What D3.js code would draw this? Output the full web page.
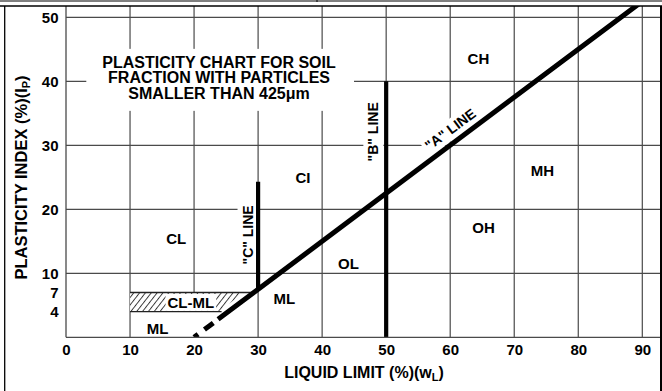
<!DOCTYPE html>
<html>
<head>
<meta charset="utf-8">
<script src="https://cdn.jsdelivr.net/npm/d3@7"></script>
<style>
  html, body { margin: 0; padding: 0; background: #fff; }
  svg { display: block; font-family: "Liberation Sans", Arial, Helvetica, sans-serif; font-weight: bold; }
</style>
</head>
<body>
<svg id="chart" width="662" height="391"></svg>
<script>
// Axis ticks
const liquidLimitTicks = [0, 10, 20, 30, 40, 50, 60, 70, 80, 90];
const plasticityTicks = [4, 7, 10, 20, 30, 40, 50];
const plasticityGrid = [10, 20, 30, 40, 50];

// Boundary lines (liquid limit, plasticity index)
const aLineLL = [20, 90];
const aLinePI = [0, 52.5];
const bLineLL = [50, 50];
const bLinePI = [0, 40];
const cLineLL = [30, 30];
const cLinePI = [7.5, 24.3];

// CL-ML hatched zone corners
const clmlLL = [10, 10, 27.8, 23.8];
const clmlPI = [4, 7, 7, 4];
const clmlTopLL = [10, 29.3];
const clmlBottomLL = [10, 24.3];

// Soil group zones
const zoneNames = ["CH", "CI", "MH", "OH", "CL", "OL", "ML", "ML"];
const zoneLL = [64.4, 37.0, 74.4, 65.2, 17.2, 44.1, 34.1, 14.3];
const zonePI = [43.5, 24.9, 26.1, 17.1, 15.5, 11.6, 6.1, 1.45];

const titleLines = ["PLASTICITY CHART FOR SOIL", "FRACTION WITH PARTICLES", "SMALLER THAN 425μm"];

const svg = d3.select("#chart");
const W = 662, H = 391;
const plot = { left: 66, right: 660, top: 6, bottom: 337.3 };

const x = d3.scaleLinear().domain([0, 90]).range([66, 642.3]);
const y = d3.scaleLinear().domain([0, 50]).range([337.3, 17.3]);

const gridColor = "#4a4a4a";

svg.append("rect").attr("width", W).attr("height", H).attr("fill", "#fff");

const defs = svg.append("defs");
defs.append("clipPath").attr("id", "plotClip")
  .append("rect")
  .attr("x", plot.left).attr("y", plot.top)
  .attr("width", plot.right - plot.left).attr("height", plot.bottom - plot.top);

const hatch = defs.append("pattern").attr("id", "hatch")
  .attr("patternUnits", "userSpaceOnUse")
  .attr("width", 4.6).attr("height", 10)
  .attr("patternTransform", "rotate(38)");
hatch.append("rect").attr("width", 4.6).attr("height", 10).attr("fill", "#fff");
hatch.append("line").attr("x1", 0.5).attr("x2", 0.5).attr("y1", 0).attr("y2", 10)
  .attr("stroke", "#222").attr("stroke-width", 0.9);

const g = svg.append("g").attr("clip-path", "url(#plotClip)");

// Grid
g.append("g").selectAll("line").data(liquidLimitTicks.slice(1)).join("line")
  .attr("x1", d => x(d)).attr("x2", d => x(d))
  .attr("y1", plot.top).attr("y2", plot.bottom)
  .attr("stroke", gridColor).attr("stroke-width", 1.2);
g.append("g").selectAll("line").data(plasticityGrid).join("line")
  .attr("x1", plot.left).attr("x2", plot.right)
  .attr("y1", d => y(d)).attr("y2", d => y(d))
  .attr("stroke", gridColor).attr("stroke-width", 1.2);

// Clear the 20 % grid line below the CL-ML zone
g.append("rect")
  .attr("x", x(10) + 1).attr("y", y(7))
  .attr("width", x(20.4) - x(10) - 1).attr("height", y(0) - y(7))
  .attr("fill", "#fff");

// CL-ML hatched zone
const clmlPts = clmlLL.map((d, i) => [x(d), y(clmlPI[i])]);
g.append("polygon").attr("points", clmlPts.map(p => p.join(",")).join(" "))
  .attr("fill", "url(#hatch)");
g.append("line")
  .attr("x1", x(clmlTopLL[0])).attr("x2", x(clmlTopLL[1]))
  .attr("y1", y(7)).attr("y2", y(7))
  .attr("stroke", "#222").attr("stroke-width", 1.3);
g.append("line")
  .attr("x1", x(clmlBottomLL[0])).attr("x2", x(clmlBottomLL[1]))
  .attr("y1", y(4)).attr("y2", y(4))
  .attr("stroke", "#222").attr("stroke-width", 1.3);

const bgLayer = g.append("g");
const lineLayer = g.append("g");
const textLayer = svg.append("g");

// Labels with white backing
function label(text, cx, cy, angle, size, pad) {
  const grp = textLayer.append("g")
    .attr("transform", `translate(${cx},${cy}) rotate(${angle})`);
  const t = grp.append("text")
    .attr("text-anchor", "middle")
    .attr("dominant-baseline", "central")
    .attr("font-size", size)
    .text(text);
  if (pad) {
    const b = t.node().getBBox();
    bgLayer.append("rect")
      .attr("transform", `translate(${cx},${cy}) rotate(${angle})`)
      .attr("x", b.x - pad[0]).attr("y", b.y - pad[1])
      .attr("width", b.width + pad[0] + pad[2])
      .attr("height", b.height + pad[1] + pad[3])
      .attr("fill", "#fff");
  }
  return t;
}

// Title block
const titleG = textLayer.append("g");
titleLines.forEach((s, i) => {
  titleG.append("text")
    .attr("x", x(23.9)).attr("y", y(42.1) + i * 15.5)
    .attr("text-anchor", "middle")
    .attr("font-size", 16)
    .text(s);
});
{
  const b = titleG.node().getBBox();
  bgLayer.append("rect")
    .attr("x", b.x - 16).attr("y", b.y - 5)
    .attr("width", b.width + 34).attr("height", b.height + 14)
    .attr("fill", "#fff");
}

const aAngle = -Math.atan2(y(aLinePI[0]) - y(aLinePI[1]), x(aLineLL[1]) - x(aLineLL[0])) * 180 / Math.PI;
label('"C" LINE', x(28.35), y(16.0), -90, 14, [3, 2, 3, 2]);
label('"B" LINE', x(48.0), y(32.1), -90, 14, [3, 2, 3, 2]);
label('"A" LINE', x(60.0), y(32.5), aAngle, 14, [3, 1, 3, 2]);
label("CL-ML", x(19.5), y(5.45), 0, 15, [2, 0, 2, 0]);

zoneNames.forEach((n, i) => label(n, x(zoneLL[i]), y(zonePI[i]), 0, 15, null));

// Boundary lines
lineLayer.append("line")
  .attr("x1", x(aLineLL[0])).attr("y1", y(aLinePI[0]))
  .attr("x2", x(aLineLL[1])).attr("y2", y(aLinePI[1]))
  .attr("stroke", "#000").attr("stroke-width", 5)
  .attr("stroke-dasharray", "5 8 11 6 2000");
lineLayer.append("line")
  .attr("x1", x(bLineLL[0])).attr("y1", y(bLinePI[0]))
  .attr("x2", x(bLineLL[1])).attr("y2", y(bLinePI[1]))
  .attr("stroke", "#000").attr("stroke-width", 4.2);
lineLayer.append("line")
  .attr("x1", x(cLineLL[0])).attr("y1", y(cLinePI[0]))
  .attr("x2", x(cLineLL[1])).attr("y2", y(cLinePI[1]))
  .attr("stroke", "#000").attr("stroke-width", 4.2);

// Axis lines
svg.append("line").attr("x1", plot.left).attr("x2", plot.left)
  .attr("y1", plot.top).attr("y2", plot.bottom)
  .attr("stroke", gridColor).attr("stroke-width", 1.3);
svg.append("line").attr("x1", plot.left).attr("x2", plot.right)
  .attr("y1", plot.bottom).attr("y2", plot.bottom)
  .attr("stroke", gridColor).attr("stroke-width", 1.3);

// Tick labels
const xAxis = svg.append("g").attr("transform", `translate(0,${plot.bottom})`)
  .call(d3.axisBottom(x).tickValues(liquidLimitTicks).tickSize(0).tickPadding(7));
const yAxis = svg.append("g").attr("transform", `translate(${plot.left},0)`)
  .call(d3.axisLeft(y).tickValues(plasticityTicks).tickSize(0).tickPadding(7.5));
[xAxis, yAxis].forEach(a => {
  a.select(".domain").remove();
  a.attr("font-family", null).attr("font-size", null);
  a.selectAll("text").attr("font-size", 15).attr("fill", "#000");
});

// Axis titles
const xt = svg.append("text").attr("x", 364).attr("y", 377.5)
  .attr("text-anchor", "middle").attr("font-size", 16);
xt.append("tspan").text("LIQUID LIMIT (%)(w");
xt.append("tspan").attr("font-size", 11).attr("dy", 3).text("L");
xt.append("tspan").attr("dy", -3).text(")");

const yt = svg.append("text")
  .attr("transform", "translate(26.5,177.5) rotate(-90)")
  .attr("text-anchor", "middle").attr("font-size", 16.5);
yt.append("tspan").text("PLASTICITY INDEX (%)(I");
yt.append("tspan").attr("font-size", 11).attr("dy", 3).text("P");
yt.append("tspan").attr("dy", -3).text(")");

// Frame
svg.append("line").attr("x1", 0).attr("x2", W).attr("y1", 1).attr("y2", 1)
  .attr("stroke", "#000").attr("stroke-width", 1);
svg.append("line").attr("x1", 0).attr("x2", W).attr("y1", 6).attr("y2", 6)
  .attr("stroke", "#000").attr("stroke-width", 1.3);
svg.append("line").attr("x1", 317).attr("x2", 317).attr("y1", 0).attr("y2", 2)
  .attr("stroke", "#000").attr("stroke-width", 1);
svg.append("line").attr("x1", 4.7).attr("x2", 4.7).attr("y1", 6).attr("y2", H)
  .attr("stroke", "#000").attr("stroke-width", 1.3);
svg.append("line").attr("x1", 661).attr("x2", 661).attr("y1", 6).attr("y2", H)
  .attr("stroke", "#000").attr("stroke-width", 2);
</script>
</body>
</html>
